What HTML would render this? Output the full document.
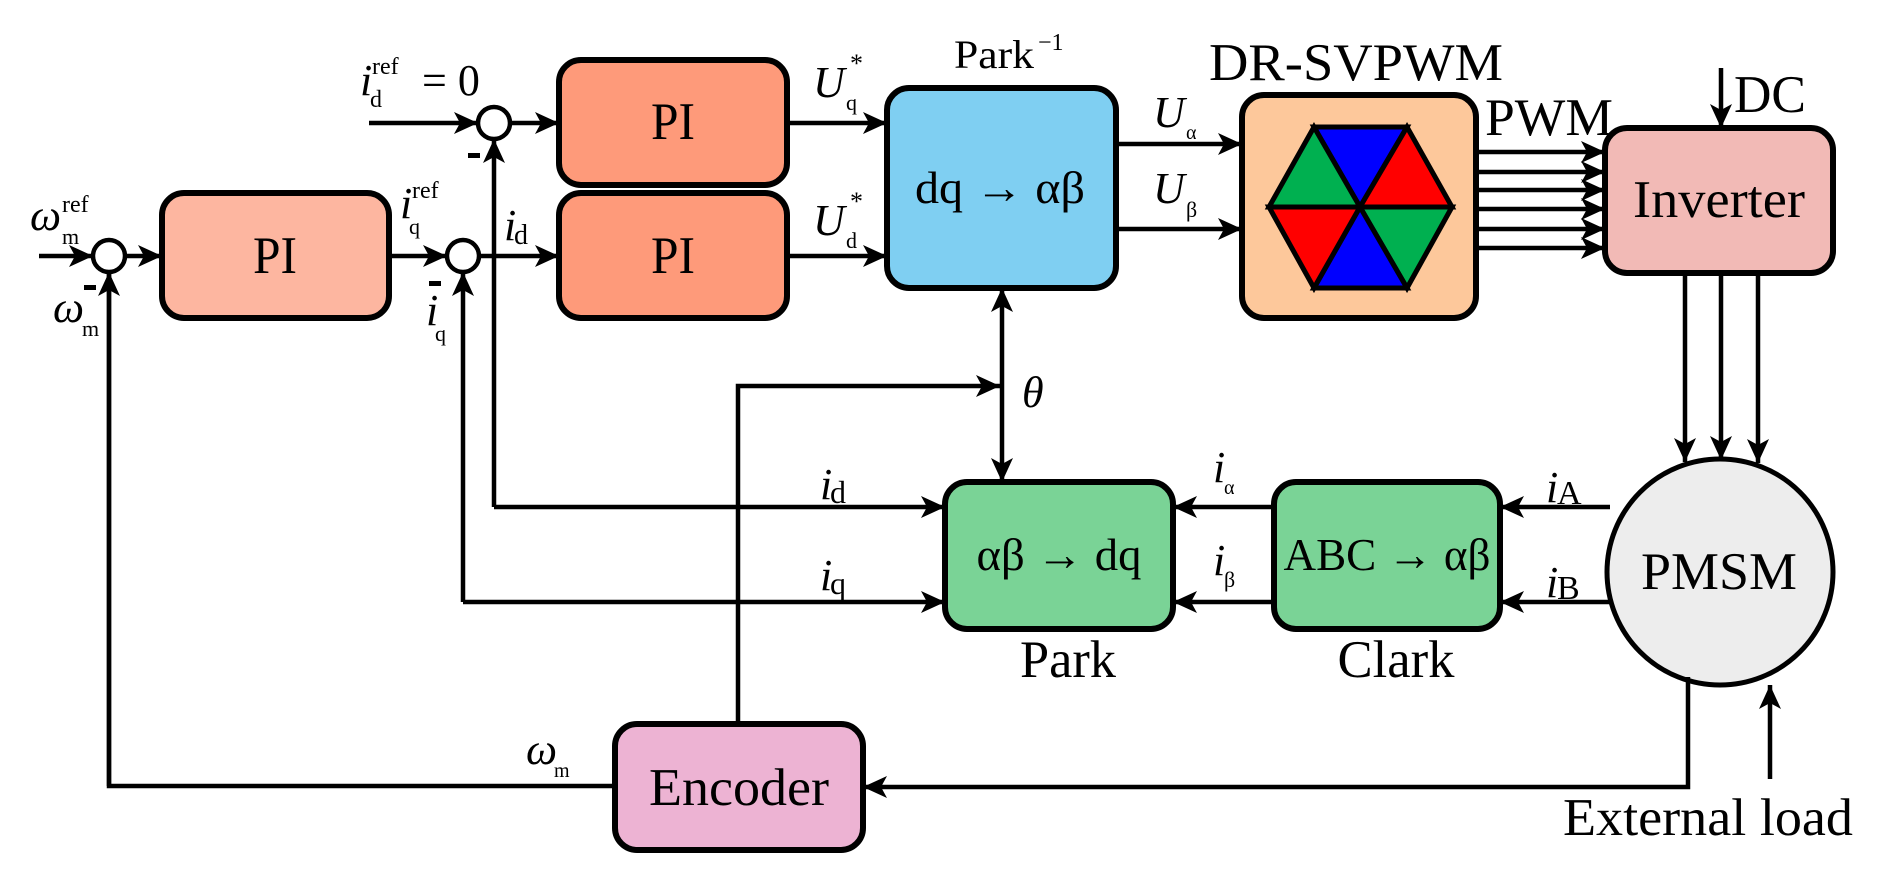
<!DOCTYPE html>
<html><head><meta charset="utf-8"><style>
html,body{margin:0;padding:0;background:#fff;}
svg{display:block;}
text{font-family:"Liberation Serif","Times New Roman",serif;fill:#000;}
.it{font-style:italic;}
</style></head><body>
<svg width="1884" height="877" viewBox="0 0 1884 877" xmlns="http://www.w3.org/2000/svg">
<defs>
<marker id="a" markerUnits="userSpaceOnUse" markerWidth="26" markerHeight="26" refX="24" refY="13" orient="auto">
<path d="M0,2 L24,13 L0,24 L6,13 Z" fill="#000"/>
</marker>
</defs>
<g stroke="#000" stroke-width="4.5" fill="none">
<rect x="162" y="193" width="227" height="125" rx="22" fill="#FDB6A0" stroke-width="6"/>
<rect x="559" y="60" width="228" height="125" rx="22" fill="#FE9A7A" stroke-width="6"/>
<rect x="559" y="193" width="228" height="125" rx="22" fill="#FE9A7A" stroke-width="6"/>
<rect x="887" y="88" width="229" height="200" rx="22" fill="#7FCFF2" stroke-width="6"/>
<rect x="1242" y="95" width="234" height="223" rx="22" fill="#FDC89B" stroke-width="6"/>
<rect x="1605" y="128" width="228" height="145" rx="22" fill="#F2BAB6" stroke-width="6"/>
<rect x="945" y="482" width="228" height="147" rx="22" fill="#7AD396" stroke-width="6"/>
<rect x="1274" y="482" width="226" height="147" rx="22" fill="#7AD396" stroke-width="6"/>
<rect x="615" y="724" width="248" height="126" rx="22" fill="#EDB3D3" stroke-width="6"/>
<ellipse cx="1720" cy="572" rx="113" ry="113" fill="#EDEDED" stroke-width="5"/>
<circle cx="109" cy="256" r="16" fill="#fff"/>
<circle cx="463" cy="256" r="16" fill="#fff"/>
<circle cx="494" cy="123" r="16" fill="#fff"/>
<line x1="39" y1="256" x2="93" y2="256" marker-end="url(#a)"/>
<line x1="125" y1="256" x2="162" y2="256" marker-end="url(#a)"/>
<line x1="389" y1="256" x2="447" y2="256" marker-end="url(#a)"/>
<line x1="479" y1="256" x2="559" y2="256" marker-end="url(#a)"/>
<line x1="369" y1="123" x2="478" y2="123" marker-end="url(#a)"/>
<line x1="510" y1="123" x2="559" y2="123" marker-end="url(#a)"/>
<line x1="787" y1="123" x2="887" y2="123" marker-end="url(#a)"/>
<line x1="787" y1="256" x2="887" y2="256" marker-end="url(#a)"/>
<line x1="1116" y1="144" x2="1242" y2="144" marker-end="url(#a)"/>
<line x1="1116" y1="229" x2="1242" y2="229" marker-end="url(#a)"/>
<line x1="1476" y1="152" x2="1605" y2="152" marker-end="url(#a)"/>
<line x1="1476" y1="172" x2="1605" y2="172" marker-end="url(#a)"/>
<line x1="1476" y1="190" x2="1605" y2="190" marker-end="url(#a)"/>
<line x1="1476" y1="209" x2="1605" y2="209" marker-end="url(#a)"/>
<line x1="1476" y1="229" x2="1605" y2="229" marker-end="url(#a)"/>
<line x1="1476" y1="248" x2="1605" y2="248" marker-end="url(#a)"/>
<line x1="1721" y1="68" x2="1721" y2="128" marker-end="url(#a)"/>
<line x1="1685" y1="273" x2="1685" y2="462" marker-end="url(#a)"/>
<line x1="1721" y1="273" x2="1721" y2="460" marker-end="url(#a)"/>
<line x1="1758" y1="273" x2="1758" y2="463" marker-end="url(#a)"/>
<polyline points="494,507 494,139" marker-end="url(#a)"/>
<polyline points="494,507 945,507" marker-end="url(#a)"/>
<polyline points="463,602 463,272" marker-end="url(#a)"/>
<polyline points="463,602 945,602" marker-end="url(#a)"/>
<polyline points="109,272 109,786 615,786" />
<line x1="109" y1="786" x2="109" y2="272" marker-end="url(#a)"/>
<polyline points="738,724 738,386 1000,386" marker-end="url(#a)"/>
<line x1="1002" y1="386" x2="1002" y2="288" marker-end="url(#a)"/>
<line x1="1002" y1="386" x2="1002" y2="482" marker-end="url(#a)"/>
<line x1="1610" y1="507" x2="1500" y2="507" marker-end="url(#a)"/>
<line x1="1612" y1="602" x2="1500" y2="602" marker-end="url(#a)"/>
<line x1="1274" y1="507" x2="1173" y2="507" marker-end="url(#a)"/>
<line x1="1274" y1="602" x2="1173" y2="602" marker-end="url(#a)"/>
<polyline points="1688,677 1688,787 863,787" marker-end="url(#a)"/>
<line x1="1770" y1="779" x2="1770" y2="685" marker-end="url(#a)"/>
</g>
<g stroke="#000" stroke-width="5" stroke-linejoin="miter">
<polygon points="1314,127 1407,127 1360,207" fill="#0000FF"/>
<polygon points="1407,127 1452,207 1360,207" fill="#FF0000"/>
<polygon points="1452,207 1407,288 1360,207" fill="#00B050"/>
<polygon points="1407,288 1314,288 1360,207" fill="#0000FF"/>
<polygon points="1314,288 1269,207 1360,207" fill="#FF0000"/>
<polygon points="1269,207 1314,127 1360,207" fill="#00B050"/>
</g>
<g fill="#000">
<rect x="84" y="285" width="12" height="5"/>
<rect x="429" y="281" width="12" height="5"/>
<rect x="468" y="153" width="12" height="5"/>
</g>
<g font-size="53">
<text x="275" y="273" text-anchor="middle" textLength="44" lengthAdjust="spacingAndGlyphs">PI</text>
<text x="673" y="139" text-anchor="middle" textLength="44" lengthAdjust="spacingAndGlyphs">PI</text>
<text x="673" y="273" text-anchor="middle" textLength="44" lengthAdjust="spacingAndGlyphs">PI</text>
<text x="1719" y="217" text-anchor="middle" textLength="172" lengthAdjust="spacingAndGlyphs">Inverter</text>
<text x="739" y="805" text-anchor="middle" textLength="180" lengthAdjust="spacingAndGlyphs">Encoder</text>
<text x="1719" y="589" text-anchor="middle" textLength="156" lengthAdjust="spacingAndGlyphs">PMSM</text>
<text x="1068" y="677" text-anchor="middle" textLength="96" lengthAdjust="spacingAndGlyphs">Park</text>
<text x="1396" y="677" text-anchor="middle" textLength="117" lengthAdjust="spacingAndGlyphs">Clark</text>
<text x="1708" y="835" text-anchor="middle" textLength="290" lengthAdjust="spacingAndGlyphs">External load</text>
<text x="1356" y="80" text-anchor="middle" textLength="294" lengthAdjust="spacingAndGlyphs">DR-SVPWM</text>
<text x="1485" y="135" textLength="128" lengthAdjust="spacingAndGlyphs">PWM</text>
<text x="1734" y="112" textLength="72" lengthAdjust="spacingAndGlyphs">DC</text>
</g>
<g font-size="46">
<text x="1000" y="203" text-anchor="middle" textLength="170" lengthAdjust="spacingAndGlyphs">dq → αβ</text>
<text x="1059" y="570" text-anchor="middle" textLength="165" lengthAdjust="spacingAndGlyphs">αβ → dq</text>
<text x="1387" y="570" text-anchor="middle" textLength="207" lengthAdjust="spacingAndGlyphs">ABC → αβ</text>
<text x="954" y="68" font-size="40" textLength="80" lengthAdjust="spacingAndGlyphs">Park</text>
<text x="1038" y="50" font-size="24">−1</text>
</g>
<g font-size="44">
<text class="it" x="30" y="230">ω</text><text x="62" y="212" font-size="24">ref</text><text x="62" y="244" font-size="22">m</text>
<text class="it" x="53" y="322">ω</text><text x="82" y="336" font-size="22">m</text>
<text class="it" x="400" y="218">i</text><text x="412" y="198" font-size="24">ref</text><text x="409" y="234" font-size="22">q</text>
<text class="it" x="426" y="325">i</text><text x="435" y="341" font-size="22">q</text>
<text class="it" x="504" y="240">i</text><text x="514" y="244" font-size="28">d</text>
<text class="it" x="360" y="95">i</text><text x="372" y="74" font-size="24">ref</text><text x="370" y="107" font-size="24">d</text>
<text x="422" y="95">= 0</text>
<text class="it" x="813" y="97">U</text><text x="850" y="72" font-size="26">*</text><text x="846" y="110" font-size="22">q</text>
<text class="it" x="813" y="235">U</text><text x="850" y="210" font-size="26">*</text><text x="846" y="248" font-size="22">d</text>
<text class="it" x="1153" y="127">U</text><text x="1186" y="139" font-size="20">α</text>
<text class="it" x="1153" y="203">U</text><text x="1186" y="217" font-size="22">β</text>
<text class="it" x="1022" y="407">θ</text>
<text class="it" x="820" y="499">i</text><text x="830" y="503" font-size="32">d</text>
<text class="it" x="820" y="590">i</text><text x="830" y="594" font-size="32">q</text>
<text class="it" x="1213" y="482">i</text><text x="1224" y="494" font-size="20">α</text>
<text class="it" x="1213" y="575">i</text><text x="1224" y="587" font-size="22">β</text>
<text class="it" x="1546" y="502">i</text><text x="1557" y="504" font-size="34">A</text>
<text class="it" x="1546" y="597">i</text><text x="1557" y="599" font-size="34">B</text>
<text class="it" x="526" y="764">ω</text><text x="554" y="777" font-size="20">m</text>
</g>
</svg>
</body></html>
